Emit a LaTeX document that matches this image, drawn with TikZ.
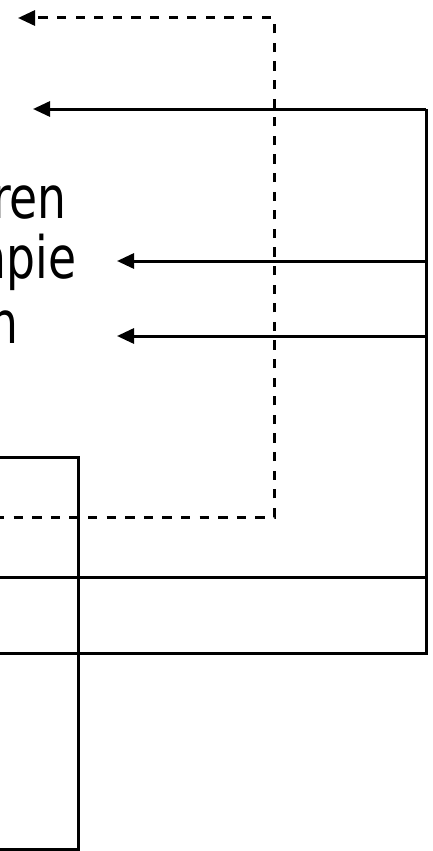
\documentclass[tikz,border=0pt]{standalone}
\usepackage{fontspec}
\newfontfamily\lblfont{DejaVu Sans}[FakeStretch=0.78]
\usetikzlibrary{arrows.meta}
\tikzset{
  wire/.style={line width=3pt, draw=black},
  dwire/.style={wire, dash pattern=on 9.3pt off 9.3pt},
  arr/.style={-{Triangle[length=17pt,width=15pt]}},
  lbl/.style={inner sep=0pt, anchor=base east, font=\lblfont\fontsize{58.5}{60}\selectfont}
}
\begin{document}
\begin{tikzpicture}[x=1pt,y=-1pt]
\useasboundingbox (0,0) rectangle (432,851);
\clip (0,0) rectangle (432,851);
% text lines
\node[lbl] (t1) at (67,218) {ren};
\node[lbl] (t2) at (76.5,278) {npie};
\node[lbl] (t3) at (19,343) {n};
% coordinates
\coordinate (dL) at (-5,517);
\coordinate (dC) at (274,517);
\coordinate (dT) at (274,18);
\coordinate (dA) at (18,18);
\coordinate (b1) at (426,109);
\coordinate (a1) at (33,109);
\coordinate (b2) at (426,261);
\coordinate (a2) at (117,261);
\coordinate (b3) at (426,336);
\coordinate (a3) at (117,336);
\coordinate (b4) at (426,653);
\coordinate (l4) at (-5,653);
\coordinate (b5) at (426,577.5);
\coordinate (l5) at (-5,577.5);
\coordinate (rTL) at (-5,457);
\coordinate (rTR) at (78,457);
\coordinate (rBR) at (78,849);
\coordinate (rBL) at (-5,849);
% dashed connector
\draw[dwire, arr] (dL) -- (dC) -- (dT) -- (dA);
% solid bus
\draw[wire, arr] (b1) -- (a1);
\draw[wire, arr] (b2) -- (a2);
\draw[wire, arr] (b3) -- (a3);
\draw[wire] (b1) -- (b4) -- (l4);
\draw[wire] (l5) -- (b5);
% box
\draw[wire] (rTL) -- (rTR) -- (rBR) -- (rBL);
\end{tikzpicture}
\end{document}
